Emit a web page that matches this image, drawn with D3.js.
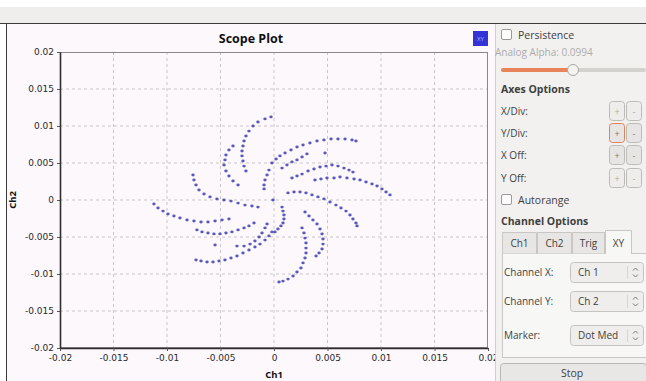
<!DOCTYPE html>
<html>
<head>
<meta charset="utf-8">
<script src="https://cdn.jsdelivr.net/npm/d3@7"></script>
<style>
  html, body { margin: 0; padding: 0; background: #fff; }
  svg { display: block; }
  text { font-family: "Open Sans", "DejaVu Sans", sans-serif; }
</style>
</head>
<body>
<svg id="scope" width="646" height="381"></svg>
<script>
// axis ticks (same for Ch1 and Ch2)
const tickValues = [-0.02, -0.015, -0.01, -0.005, 0, 0.005, 0.01, 0.015, 0.02];
const tickLabels = ['-0.02', '-0.015', '-0.01', '-0.005', '0', '0.005', '0.01', '0.015', '0.02'];

// XY samples [ch1, ch2], one array per spiral arm
const armA = [[-0.00028,0.01122],[-0.00084,0.01095],[-0.00150,0.01054],[-0.00196,0.01000],[-0.00234,0.00932],[-0.00262,0.00865],[-0.00280,0.00797],[-0.00290,0.00730],[-0.00299,0.00662],[-0.00299,0.00595],[-0.00290,0.00527],[-0.00280,0.00459],[-0.00262,0.00392]];
const armB = [[-0.00383,0.00730],[-0.00421,0.00676],[-0.00449,0.00608],[-0.00458,0.00541],[-0.00467,0.00473],[-0.00449,0.00392],[-0.00421,0.00324],[-0.00383,0.00257],[-0.00336,0.00203]];
const armC = [[-0.00757,0.00338],[-0.00748,0.00270],[-0.00729,0.00203],[-0.00701,0.00135],[-0.00654,0.00081],[-0.00598,0.00041],[-0.00533,0.00014],[-0.00467,0.00000],[-0.00402,-0.00014],[-0.00336,-0.00041],[-0.00271,-0.00068],[-0.00206,-0.00081],[-0.00150,-0.00095]];
const armD = [[-0.01122,-0.00054],[-0.01084,-0.00108],[-0.01037,-0.00149],[-0.00991,-0.00189],[-0.00935,-0.00216],[-0.00879,-0.00243],[-0.00813,-0.00270],[-0.00748,-0.00284],[-0.00682,-0.00297],[-0.00617,-0.00297],[-0.00551,-0.00284],[-0.00486,-0.00270],[-0.00421,-0.00257]];
const armE = [[-0.00720,-0.00405],[-0.00673,-0.00432],[-0.00617,-0.00446],[-0.00561,-0.00459],[-0.00505,-0.00459],[-0.00449,-0.00446],[-0.00393,-0.00432],[-0.00336,-0.00405],[-0.00280,-0.00378],[-0.00234,-0.00351],[-0.00187,-0.00311]];
const armF = [[-0.00729,-0.00811],[-0.00682,-0.00824],[-0.00626,-0.00838],[-0.00570,-0.00838],[-0.00514,-0.00824],[-0.00458,-0.00811],[-0.00402,-0.00784],[-0.00346,-0.00757],[-0.00290,-0.00716],[-0.00234,-0.00676],[-0.00178,-0.00635],[-0.00131,-0.00595],[-0.00084,-0.00541],[-0.00047,-0.00486],[-0.00019,-0.00432]];
const armG = [[-0.00551,-0.00608],[-0.00346,-0.00622],[-0.00280,-0.00622],[-0.00224,-0.00595],[-0.00178,-0.00554],[-0.00140,-0.00500],[-0.00112,-0.00446],[-0.00084,-0.00378],[-0.00065,-0.00324]];
const armH = [[-0.00019,0.00500],[0.00019,0.00554],[0.00056,0.00595],[0.00103,0.00635],[0.00159,0.00676],[0.00215,0.00716],[0.00271,0.00743],[0.00336,0.00770],[0.00402,0.00797],[0.00467,0.00811],[0.00533,0.00824],[0.00598,0.00824],[0.00664,0.00824],[0.00729,0.00811],[0.00766,0.00797]];
const armI = [[0.00075,0.00432],[0.00121,0.00473],[0.00168,0.00514],[0.00215,0.00541],[0.00262,0.00581],[0.00308,0.00622],[0.00477,0.00635]];
const armJ = [[0.00168,0.00297],[0.00215,0.00324],[0.00262,0.00351],[0.00318,0.00392],[0.00374,0.00419],[0.00430,0.00446],[0.00486,0.00459],[0.00542,0.00473],[0.00598,0.00459],[0.00654,0.00432],[0.00701,0.00405],[0.00738,0.00378]];
const armK = [[0.00383,0.00270],[0.00439,0.00284],[0.00495,0.00297],[0.00561,0.00297],[0.00617,0.00311],[0.00682,0.00297],[0.00748,0.00284],[0.00804,0.00270],[0.00860,0.00243],[0.00916,0.00216],[0.00963,0.00189],[0.01009,0.00149],[0.01047,0.00108],[0.01084,0.00068]];
const armL = [[0.00131,0.00095],[0.00187,0.00108],[0.00243,0.00108],[0.00299,0.00095],[0.00355,0.00068],[0.00411,0.00041],[0.00467,0.00014],[0.00523,-0.00027],[0.00579,-0.00068],[0.00626,-0.00108],[0.00673,-0.00149],[0.00710,-0.00203],[0.00738,-0.00257],[0.00766,-0.00311],[0.00776,-0.00351]];
const armM = [[0.00290,-0.00162],[0.00327,-0.00216],[0.00364,-0.00270],[0.00402,-0.00324],[0.00430,-0.00392],[0.00449,-0.00459],[0.00458,-0.00527],[0.00458,-0.00595],[0.00449,-0.00662],[0.00421,-0.00716],[0.00393,-0.00757]];
const armN = [[0.00262,-0.00378],[0.00280,-0.00446],[0.00290,-0.00514],[0.00299,-0.00581],[0.00299,-0.00649],[0.00299,-0.00716],[0.00290,-0.00784],[0.00271,-0.00851],[0.00252,-0.00919],[0.00215,-0.00973],[0.00178,-0.01027],[0.00131,-0.01068],[0.00084,-0.01095],[0.00047,-0.01108]];
const armO = [[0.00075,-0.00095],[0.00084,-0.00149],[0.00093,-0.00203],[0.00093,-0.00257],[0.00084,-0.00311],[0.00065,-0.00351],[0.00037,-0.00392],[0.00009,-0.00432]];
const armP = [[-0.00047,0.00405],[-0.00065,0.00338],[-0.00084,0.00270],[-0.00093,0.00203],[-0.00093,0.00149],[-0.00009,0.00000]];

// side panel texts
const axesRows = ['X/Div:', 'Y/Div:', 'X Off:', 'Y Off:'];
const tabNames = ['Ch1', 'Ch2', 'Trig', 'XY'];
const channelRows = [['Channel X:', 'Ch 1'], ['Channel Y:', 'Ch 2'], ['Marker:', 'Dot Med']];

const arms = [armA, armB, armC, armD, armE, armF, armG, armH, armI, armJ, armK, armL, armM, armN, armO, armP];

const svg = d3.select('#scope');
const W = 646, H = 381;
const plot = {left: 60, right: 488, top: 52, bottom: 348};
const splitX = 495;

// window chrome
svg.append('rect').attr('width', W).attr('height', H).attr('fill', '#fff');
svg.append('rect').attr('x', 0).attr('y', 7).attr('width', W).attr('height', 16).attr('fill', '#efeeec');
svg.append('rect').attr('x', 6).attr('y', 24).attr('width', splitX - 6).attr('height', H - 24).attr('fill', '#fcf8fc');
svg.append('line').attr('x1', 0).attr('x2', W).attr('y1', 23.5).attr('y2', 23.5).attr('stroke', '#3a3a3a');
svg.append('line').attr('x1', 6.5).attr('x2', 6.5).attr('y1', 24).attr('y2', H).attr('stroke', '#3a3a3a');

// scope plot
const x = d3.scaleLinear().domain([-0.02, 0.02]).range([plot.left, plot.right]);
const y = d3.scaleLinear().domain([-0.02, 0.02]).range([plot.bottom, plot.top]);

const g = svg.append('g');

g.append('g').selectAll('line')
  .data(tickValues.slice(1, -1))
  .join('line')
  .attr('x1', d => x(d)).attr('x2', d => x(d))
  .attr('y1', plot.top).attr('y2', plot.bottom)
  .attr('stroke', '#c9c6c9').attr('stroke-dasharray', '3,3');

g.append('g').selectAll('line')
  .data(tickValues.slice(1, -1))
  .join('line')
  .attr('x1', plot.left).attr('x2', plot.right)
  .attr('y1', d => y(d)).attr('y2', d => y(d))
  .attr('stroke', '#c9c6c9').attr('stroke-dasharray', '3,3');

g.append('rect')
  .attr('x', plot.left + 0.5).attr('y', plot.top + 0.5)
  .attr('width', plot.right - plot.left - 1).attr('height', plot.bottom - plot.top - 1)
  .attr('fill', 'none').attr('stroke', '#8a888a');

const xAxis = g.append('g')
  .attr('transform', `translate(0, ${plot.bottom})`)
  .call(d3.axisBottom(x).tickValues(tickValues).tickFormat((d, i) => tickLabels[i]).tickSizeInner(3).tickSizeOuter(0).tickPadding(4));
const yAxis = g.append('g')
  .attr('transform', `translate(${plot.left}, 0)`)
  .call(d3.axisLeft(y).tickValues(tickValues).tickFormat((d, i) => tickLabels[i]).tickSizeInner(3).tickSizeOuter(0).tickPadding(3));

[xAxis, yAxis].forEach(a => {
  a.select('.domain').attr('stroke', '#2e2e2e').attr('stroke-width', 1.6);
  a.selectAll('.tick line').attr('stroke', '#555');
  a.selectAll('.tick text')
    .attr('fill', '#2a2a2a')
    .style('font-family', '"DejaVu Sans", sans-serif')
    .style('font-size', '9px');
});

// xy trace
g.append('g').selectAll('g')
  .data(arms)
  .join('g')
  .selectAll('ellipse')
  .data(d => d)
  .join('ellipse')
  .attr('cx', d => x(d[0]))
  .attr('cy', d => y(d[1]))
  .attr('rx', 1.7).attr('ry', 1.4)
  .attr('fill', '#3d3db2')
  .attr('fill-opacity', 0.85);

svg.append('text')
  .attr('x', 251).attr('y', 43)
  .attr('text-anchor', 'middle')
  .attr('font-weight', 'bold').attr('font-size', 12.5)
  .attr('fill', '#111')
  .text('Scope Plot');

svg.append('text')
  .attr('x', x(0)).attr('y', 378)
  .attr('text-anchor', 'middle')
  .attr('font-weight', 'bold').attr('font-size', 9.5)
  .attr('fill', '#111')
  .text('Ch1');

svg.append('text')
  .attr('transform', `translate(16, ${y(0)}) rotate(-90)`)
  .attr('text-anchor', 'middle')
  .attr('font-weight', 'bold').attr('font-size', 9.5)
  .attr('fill', '#111')
  .text('Ch2');

svg.append('rect')
  .attr('x', 473).attr('y', 31).attr('width', 15).attr('height', 15)
  .attr('fill', '#3434d6');
svg.append('text')
  .attr('x', 480.5).attr('y', 41)
  .attr('text-anchor', 'middle').attr('font-size', 6)
  .attr('fill', '#a9b6f0')
  .text('XY');

// side panel
const side = svg.append('g');
const ink = '#3f3f3f';
side.append('rect').attr('x', splitX).attr('y', 24).attr('width', W - splitX).attr('height', H - 24).attr('fill', '#f2f1f0');
side.append('line').attr('x1', splitX + 0.5).attr('x2', splitX + 0.5).attr('y1', 24).attr('y2', H).attr('stroke', '#d0cfcd');

function label(px, py, txt, opts = {}) {
  return side.append('text')
    .attr('x', px).attr('y', py)
    .attr('font-size', opts.size || 10)
    .attr('font-weight', opts.bold ? 'bold' : 'normal')
    .attr('text-anchor', opts.anchor || 'start')
    .attr('fill', opts.color || ink)
    .text(txt);
}

function checkbox(py, txt) {
  side.append('rect')
    .attr('x', 501.5).attr('y', py - 9.5).attr('width', 10).attr('height', 10).attr('rx', 1.5)
    .attr('fill', '#fff').attr('stroke', '#9a9a9a');
  label(518, py, txt, {size: 10.5});
}

function button(bx, by, sym, opts = {}) {
  side.append('rect')
    .attr('x', bx + 0.5).attr('y', by + 0.5).attr('width', 15).attr('height', 19).attr('rx', 3)
    .attr('fill', opts.dim ? '#eeedeb' : '#e6e5e3')
    .attr('stroke', opts.focus ? '#e0825c' : '#bdbbb8');
  label(bx + 8, by + 13.5, sym, {size: 9, anchor: 'middle', color: opts.dim ? '#aaa' : '#777'});
}

checkbox(39, 'Persistence');
label(495, 56, 'Analog Alpha: 0.0994', {size: 10, color: '#acacac'});

side.append('rect').attr('x', 501).attr('y', 68).attr('width', W - 501).attr('height', 4).attr('rx', 2).attr('fill', '#d4d2cf');
side.append('rect').attr('x', 501).attr('y', 68).attr('width', 72).attr('height', 4).attr('rx', 2).attr('fill', '#e8845a');
side.append('circle').attr('cx', 573).attr('cy', 70).attr('r', 5.5).attr('fill', '#f3f3f2').attr('stroke', '#a9a7a4');

label(501, 93, 'Axes Options', {bold: true, size: 10.5});

const rowTops = [101, 123, 145, 168];
axesRows.forEach((r, i) => {
  label(501, rowTops[i] + 14, r, {size: 10});
  button(609, rowTops[i], '+', {dim: i === 0 || i === 3, focus: i === 1});
  button(626, rowTops[i], '-', {dim: i === 0 || i === 3});
});

checkbox(204, 'Autorange');
label(501, 225, 'Channel Options', {bold: true, size: 10.5});

// tabs
const tabX = [502, 537, 572, 605, 632];
side.append('rect').attr('x', 502.5).attr('y', 253.5).attr('width', W - 502).attr('height', 104)
  .attr('fill', '#f7f7f6').attr('stroke', '#c8c7c4');
tabNames.forEach((t, i) => {
  const active = i === tabNames.length - 1;
  side.append('path')
    .attr('d', `M${tabX[i] + 0.5},${active ? 254 : 253.5} V${active ? 230.5 : 232.5} H${tabX[i + 1] - 0.5} V${active ? 254 : 253.5}`)
    .attr('fill', active ? '#f7f7f6' : '#e7e6e4')
    .attr('stroke', '#c8c7c4');
  label((tabX[i] + tabX[i + 1]) / 2, 247, t, {size: 10, anchor: 'middle'});
});

const comboTops = [262, 291, 325];
channelRows.forEach((r, i) => {
  const cy = comboTops[i];
  label(504, cy + 14, r[0], {size: 10});
  side.append('rect')
    .attr('x', 570.5).attr('y', cy + 0.5).attr('width', 73).attr('height', 20).attr('rx', 3)
    .attr('fill', '#efeeec').attr('stroke', '#c6c4c1');
  side.append('line')
    .attr('x1', 627.5).attr('x2', 627.5).attr('y1', cy + 4).attr('y2', cy + 17)
    .attr('stroke', '#d8d6d3');
  label(578, cy + 14, r[1], {size: 10});
  side.append('path')
    .attr('d', `M633,${cy + 8.5} l2.5,-2.5 l2.5,2.5 M633,${cy + 12.5} l2.5,2.5 l2.5,-2.5`)
    .attr('fill', 'none').attr('stroke', '#6a6a6a').attr('stroke-width', 0.9);
});

side.append('rect')
  .attr('x', 500.5).attr('y', 363.5).attr('width', W - 500).attr('height', 22).attr('rx', 3)
  .attr('fill', '#e8e7e5').attr('stroke', '#bab8b5');
label(572, 377, 'Stop', {size: 10.5, anchor: 'middle'});
</script>
</body>
</html>
